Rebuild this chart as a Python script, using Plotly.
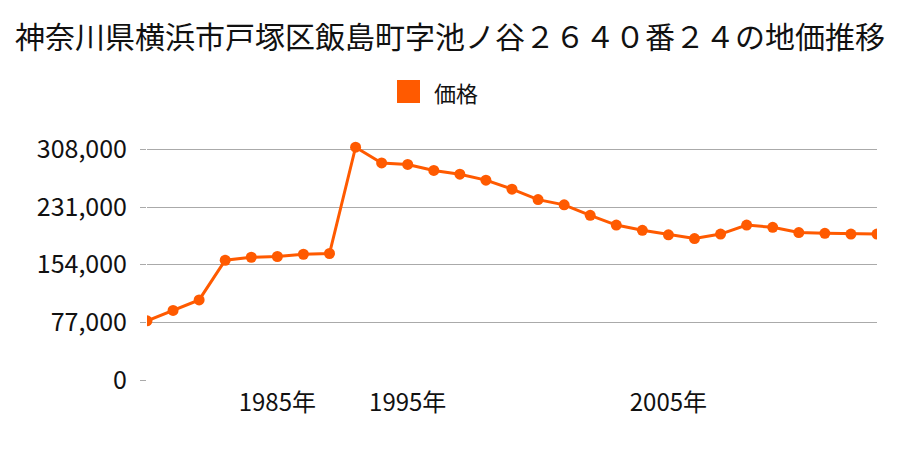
import plotly.graph_objects as go

years = ["1980", "1981", "1982", "1983", "1984", "1985", "1986", "1987",
         "1993", "1994", "1995", "1996", "1997", "1998", "1999", "2000",
         "2001", "2002", "2003", "2004", "2005", "2006", "2007", "2008",
         "2009", "2010", "2011", "2012", "2013"]
prices = [79000, 93000, 107000, 160000, 164000, 165000, 168000, 169000,
          311000, 290000, 288000, 280000, 275000, 267000, 255000, 241000,
          234000, 220000, 207000, 200000, 194000, 189000, 195000, 207000,
          204000, 197000, 196000, 195000, 195000]
tick_years = ["1985", "1995", "2005"]
tick_text = ["1985年", "1995年", "2005年"]
y_ticks = [0, 77000, 154000, 231000, 308000]
y_text = ["0", "77,000", "154,000", "231,000", "308,000"]
series_name = "価格"
title_text = "神奈川県横浜市戸塚区飯島町字池ノ谷２６４０番２４の地価推移"

color = "#ff5a00"
font = "Noto Sans CJK JP"

fig = go.Figure()
fig.add_trace(go.Scatter(
    x=years, y=prices, mode="lines+markers", name=series_name,
    line=dict(color=color, width=3),
    marker=dict(color=color, size=11),
    showlegend=False, hoverinfo="x+y",
))

# legend drawn as a square + label above the plot
fig.add_shape(type="rect", xref="paper", yref="paper",
              x0=0.3425, x1=0.3740, y0=1.1215, y1=1.2146,
              fillcolor=color, line=dict(width=0))
fig.add_annotation(text=series_name, xref="paper", yref="paper",
                   x=0.3905, y=1.1672, xanchor="left", yanchor="middle",
                   showarrow=False, font=dict(size=22, family=font, color="#111111"))

fig.update_layout(
    width=900, height=450,
    margin=dict(l=147, r=23, t=133, b=70),
    paper_bgcolor="white", plot_bgcolor="white",
    font=dict(family=font, color="#111111", size=24),
    title=dict(text=title_text,
               x=0.5, xanchor="center", y=0.9156, yanchor="middle",
               font=dict(size=30, family=font, color="#111111")),
    showlegend=False,
    xaxis=dict(type="category", range=[0, len(years) - 1],
               tickvals=tick_years, ticktext=tick_text,
               showgrid=False, showline=False, ticks="",
               ticklabelstandoff=6,
               tickfont=dict(size=24, family=font, color="#111111")),
    yaxis=dict(range=[0, 330000], tickvals=y_ticks, ticktext=y_text,
               showgrid=True, gridcolor="#aaaaaa", gridwidth=1,
               zeroline=False, showline=False,
               ticks="outside", ticklen=6, tickcolor="#aaaaaa",
               ticklabelstandoff=8,
               tickfont=dict(size=25, family=font, color="#111111")),
)

fig.write_html("out.html")
